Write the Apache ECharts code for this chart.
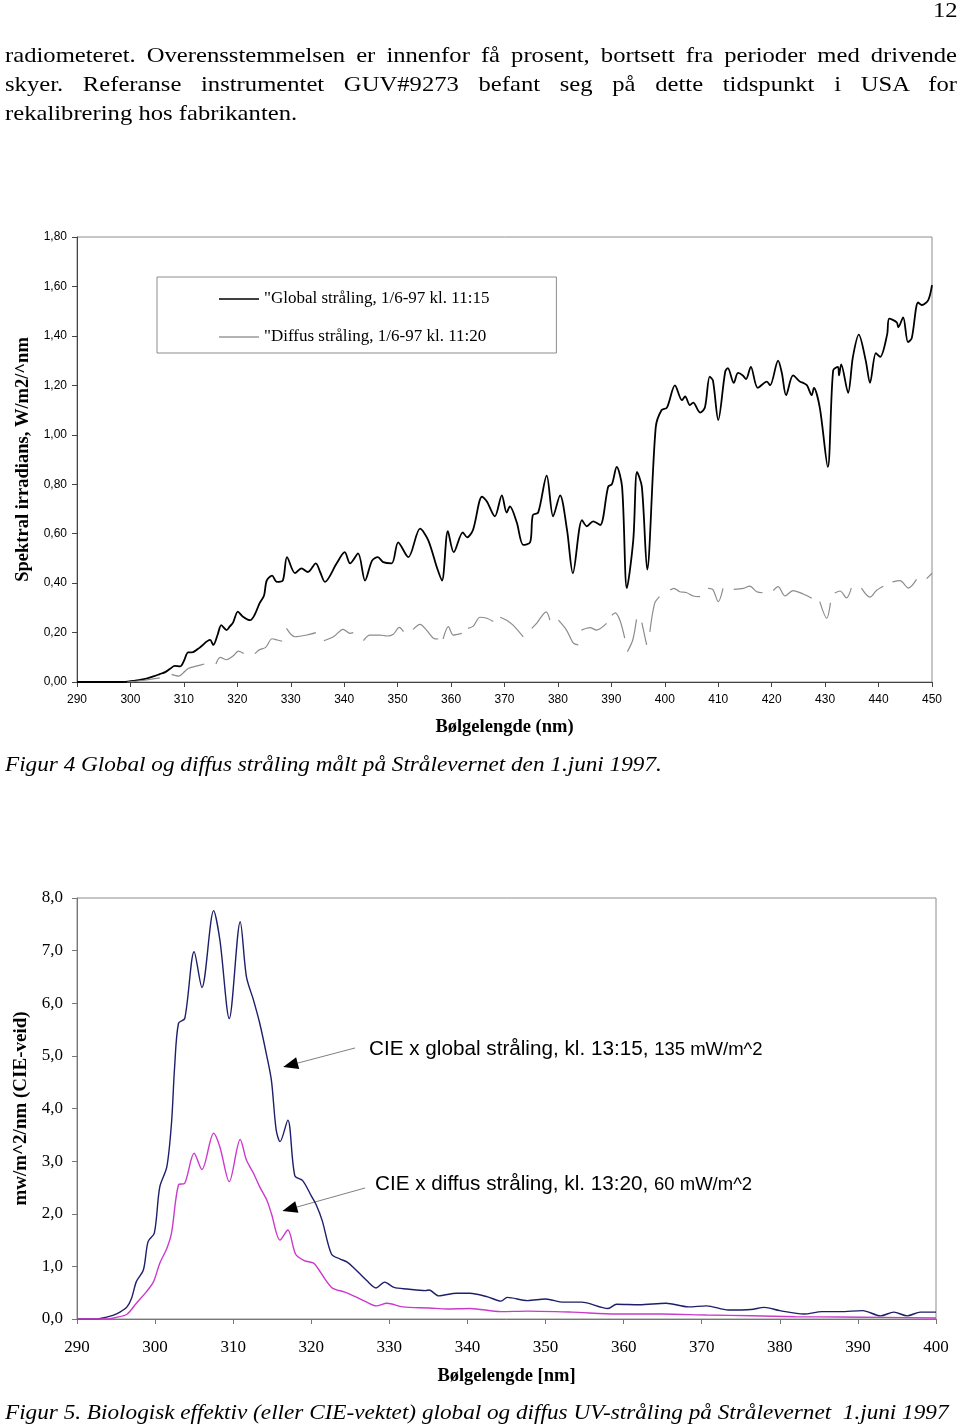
<!DOCTYPE html>
<html><head><meta charset="utf-8">
<script src="https://cdn.jsdelivr.net/npm/echarts@6/dist/echarts.min.js"></script>
<style>
html,body{margin:0;padding:0;background:#fff;}
#wrap{position:relative;width:960px;height:1428px;overflow:hidden;background:#fff;}
#chart{position:absolute;left:0;top:0;width:960px;height:1428px;}
.t{position:absolute;font-family:"Liberation Serif","Times New Roman",serif;color:#000;white-space:nowrap;line-height:26px;transform-origin:0 0;}
.p{font-size:22px;transform:scaleX(1.12);}
.j{text-align:justify;text-align-last:justify;width:850px;}
.cap{font-style:italic;font-size:21px;transform:scaleX(1.105);}
</style></head>
<body>
<div id="wrap">
<div id="chart"></div>
<div class="t p" style="left:933px;top:-3px;">12</div>
<div class="t p j" style="left:5px;top:42px;">radiometeret. Overensstemmelsen er innenfor få prosent, bortsett fra perioder med drivende</div>
<div class="t p j" style="left:5px;top:71px;">skyer. Referanse instrumentet GUV#9273 befant seg på dette tidspunkt i USA for</div>
<div class="t p" style="left:5px;top:100px;">rekalibrering hos fabrikanten.</div>
<div class="t cap" style="left:5px;top:751px;">Figur 4 Global og diffus stråling målt på Strålevernet den 1.juni 1997.</div>
<div class="t cap" style="left:5px;top:1399px;">Figur 5. Biologisk effektiv (eller CIE-vektet) global og diffus UV-stråling på Strålevernet&nbsp; 1.juni 1997</div>
</div>
<script>
// ---------- Figur 4 data ----------
const fig4Ticks = [290,300,310,320,330,340,350,360,370,380,390,400,410,420,430,440,450];
const globalName = '"Global stråling, 1/6-97 kl. 11:15';
const diffusName = '"Diffus stråling, 1/6-97 kl. 11:20';
const globalNm = [290,295,298.5,300,301.5,303,304.5,305.5,306.5,307.5,308.3,309.3,310,310.8,311.5,313,314.9,315.5,316.3,317,318,318.6,319.2,320.1,321,322.4,323.2,324.2,325,325.5,326.5,327.4,328.5,329.3,330.8,332,333.2,334.7,335.5,336.4,338.6,340.1,341.1,342.6,343.9,345.2,346.3,347.3,348.9,350.1,352,354.2,355.7,357.4,358.3,359.4,360.5,362.2,363,364.1,365.8,366.7,368.2,369.5,370.4,371,372.3,373.5,374.8,375.3,376.3,377.9,379.1,380.4,381.7,382.8,384.5,385.4,386.6,387.9,389.4,390.1,391,392,392.9,394.1,394.8,395.7,396.7,398.3,399.4,400.4,401.9,403.2,403.8,404.7,405.3,406.6,407.5,408.4,409,410,411.3,411.8,412.9,413.7,414.6,415.2,416.1,417.4,419.1,419.7,421.2,421.9,422.7,424,425.3,425.9,426.6,427.5,427.9,429,430.5,431.5,432.4,432.6,433,434.3,435.2,436.3,437.6,438.4,439.5,440.3,441.6,442,443.4,443.7,444.6,445.5,446.2,447.4,448.1,449.3,450];
const globalVal = [0,0,0,0.003,0.008,0.014,0.024,0.032,0.04,0.055,0.065,0.063,0.085,0.12,0.12,0.14,0.17,0.15,0.19,0.23,0.21,0.225,0.24,0.285,0.265,0.25,0.27,0.32,0.35,0.41,0.43,0.405,0.41,0.505,0.44,0.46,0.445,0.48,0.445,0.405,0.48,0.525,0.48,0.52,0.41,0.49,0.505,0.485,0.48,0.565,0.505,0.62,0.575,0.46,0.41,0.61,0.525,0.605,0.585,0.615,0.75,0.73,0.67,0.755,0.685,0.71,0.645,0.555,0.565,0.675,0.685,0.835,0.67,0.755,0.615,0.44,0.655,0.63,0.65,0.635,0.79,0.8,0.87,0.79,0.38,0.575,0.85,0.79,0.455,1.03,1.10,1.11,1.20,1.14,1.155,1.12,1.13,1.09,1.11,1.235,1.22,1.06,1.255,1.27,1.21,1.25,1.24,1.225,1.275,1.19,1.215,1.20,1.30,1.25,1.16,1.24,1.215,1.21,1.20,1.16,1.19,1.11,0.87,1.26,1.275,1.24,1.285,1.17,1.315,1.405,1.30,1.21,1.33,1.315,1.405,1.47,1.455,1.435,1.475,1.375,1.39,1.535,1.525,1.545,1.605];
// null = gap in the measured diffuse spectrum
const diffusNm = [299.4,301,303,304.5,305.5,306.5, 307.7,309,310.8,312.5,313.8,315, 316,316.8,318,319.2,320.2,321.2,322.2, 323.3,324.1,325.3,326.5,327.5,328.4,328.8, 329.2,330.8,333,334.7,335.5, 336.2,338,339.8,341.1,341.7,342.6, 343.6,344.8,346.7,348,349.2,350.3,351.1,352, 352.9,354.2,355.4,356.7,357.6,358, 358.5,359.5,360.4,362,362.6, 363.2,364.2,365.4,366.7,367.9,368.5, 369.2,370.4,371.6,373.5,374.3, 375.1,376,377.8,378.5,379.3, 380.1,381.6,382.9,383.8,384.1, 384.4,386,387.2,389.1,389.6, 390.1,390.7,391.6,392.5,392.7, 393,394,394.7,395.2, 395.7,396.6,396.9, 397.2,398.1,399,400, 401,401.7,402.8,404,405.3,406.6,407.3, 408.1,409,410,410.9,411.9, 412.9,414.7,415.9,417.2,418.3,419.3, 420.3,421.2,422.5,424,425.9,427.5,428.2, 429,430.3,431,431.4, 431.8,432.8,434,434.9,435.8, 436.8,438.4,439.6,440.9,441.7, 442.6,444,445.6,447.1,448, 449,450];
const diffusVal = [0,0.003,0.008,0.014,0.017,null, 0.031,0.024,0.055,0.065,0.073,null, 0.073,0.10,0.09,0.105,0.125,0.115,null, 0.115,0.13,0.14,0.175,0.17,0.165,null, 0.217,0.183,0.19,0.2,null, 0.167,0.183,0.213,0.197,0.2,null, 0.167,0.19,0.19,0.186,0.193,0.221,0.204,null, 0.213,0.233,0.21,0.177,0.174,null, 0.174,0.224,0.19,0.197,null, 0.217,0.227,0.262,0.258,0.245,null, 0.262,0.25,0.23,0.183,null, 0.217,0.237,0.284,0.25,null, 0.25,0.21,0.157,0.15,null, 0.21,0.22,0.21,0.237,null, 0.27,0.28,0.25,0.177,null, 0.123,0.17,0.253,null, 0.24,0.15,null, 0.203,0.318,0.345,null, 0.372,0.379,0.365,0.362,0.348,0.345,null, 0.379,0.374,0.325,0.379,null, 0.375,0.379,0.388,0.365,0.361,null, 0.37,0.386,0.348,0.37,0.356,0.339,null, 0.325,0.258,0.32,null, 0.36,0.368,0.34,0.38,null, 0.38,0.343,0.37,0.387,null, 0.405,0.41,0.38,0.415,null, 0.418,0.44];

// ---------- Figur 5 data ----------
const fig5Ticks = [290,300,310,320,330,340,350,360,370,380,390,400];
const cieGlobalNm = [290,292,293,294.6,295.5,296.4,297,297.6,298.5,299.1,299.9,300.6,301.5,302.1,302.5,303,303.8,305,306,307.5,308.3,309.5,310.9,311.7,312.6,313.4,314.3,314.9,315.5,316,317,317.9,318.9,320,320.6,321.4,322.6,323.7,324.6,325.4,327.1,328.3,329.4,330.6,332.3,334.6,335.1,336.3,338.6,340.3,342.6,344.3,345.1,347.7,350,352.3,354.6,358,359.1,362,365.4,368.3,370.6,373.4,376.3,378,380,383.1,385.4,387.7,390.6,392.9,394.6,396.3,398,400];
const cieGlobalVal = [0,0,0.01,0.07,0.13,0.23,0.4,0.71,0.93,1.47,1.63,2.51,2.89,3.72,4.79,5.62,5.71,6.98,6.30,7.76,7.20,5.71,7.55,6.5,6.06,5.62,5.0,4.53,3.6,3.37,3.78,2.72,2.63,2.34,2.18,1.87,1.23,1.14,1.08,0.98,0.73,0.59,0.70,0.60,0.57,0.54,0.55,0.44,0.49,0.49,0.42,0.34,0.41,0.35,0.38,0.32,0.32,0.20,0.28,0.27,0.30,0.23,0.25,0.17,0.18,0.22,0.16,0.095,0.14,0.14,0.16,0.06,0.13,0.06,0.13,0.13];
const cieDiffusNm = [290,293.8,295,296.4,297.6,298.9,299.8,300.6,301.5,302.1,303,303.8,305,306,307.5,308.3,309.5,310.9,311.7,312.6,313.4,314.3,314.9,316,317,318,319.1,320.3,320.9,322.6,324.3,325.4,327.1,328.3,329.7,331.7,335.1,337.4,340.3,344.3,347.7,353.4,359.1,364.9,370.6,376.3,382,387.7,393.4,400];
const cieDiffusVal = [0,0,0.03,0.09,0.30,0.52,0.71,1.06,1.34,1.63,2.55,2.58,3.15,2.84,3.53,3.27,2.61,3.41,3.02,2.77,2.51,2.26,2.0,1.50,1.69,1.23,1.11,1.06,0.95,0.60,0.51,0.44,0.32,0.25,0.30,0.23,0.21,0.19,0.20,0.14,0.15,0.13,0.095,0.095,0.076,0.063,0.044,0.038,0.03,0.02];
const annoText = ['CIE x global stråling, kl. 13:15, ', '135 mW/m^2', 'CIE x diffus stråling, kl. 13:20, ', '60 mW/m^2'];
const annoTail = [[325.6,5.15],[326.9,2.49]];
const annoTip = [[316.4,4.79],[316.3,2.05]];

const zip = (a,b) => a.map((x,i)=>[x,b[i]]);
const SERIF = '"Liberation Serif","Times New Roman",serif';
const SANS = '"Liberation Sans",Arial,sans-serif';

const chart = echarts.init(document.getElementById('chart'), null, {renderer:'canvas'});
const option = {
  animation:false,
  backgroundColor:'#fff',
  grid:[
    {left:77, top:237, width:855, height:445, show:true, borderColor:'#8c8c8c', borderWidth:1},
    {left:77, top:898, width:859, height:421, show:true, borderColor:'#8c8c8c', borderWidth:1}
  ],
  legend:{
    data:[
      {name:globalName, icon:'rect', itemStyle:{color:'#000'}},
      {name:diffusName, icon:'rect', itemStyle:{color:'#9a9a9a'}}
    ],
    orient:'vertical', left:157, top:277,
    itemWidth:40, itemHeight:1.6, itemGap:20, padding:[13,67,7,62],
    borderColor:'#8c8c8c', borderWidth:1, backgroundColor:'#fff',
    textStyle:{fontFamily:SERIF, fontSize:17, color:'#000', lineHeight:18}
  },
  xAxis:[
    {type:'value', gridIndex:0, min:290, max:450, interval:10,
     axisLine:{lineStyle:{color:'#444', width:1}}, axisTick:{length:5, lineStyle:{color:'#444'}},
     splitLine:{show:false},
     axisLabel:{fontFamily:SANS, fontSize:12, color:'#000', margin:12, formatter:v=>fig4Ticks.includes(v)?String(v):''},
     name:'Bølgelengde (nm)', nameLocation:'middle', nameGap:36,
     nameTextStyle:{fontFamily:SERIF, fontWeight:'bold', fontSize:18.5, color:'#000', verticalAlign:'top'}},
    {type:'value', gridIndex:1, min:290, max:400, interval:10,
     axisLine:{lineStyle:{color:'#777', width:1}}, axisTick:{length:5, lineStyle:{color:'#777'}},
     splitLine:{show:false},
     axisLabel:{fontFamily:SERIF, fontSize:17, color:'#000', margin:20, formatter:v=>fig5Ticks.includes(v)?String(v):''},
     name:'Bølgelengde [nm]', nameLocation:'middle', nameGap:48,
     nameTextStyle:{fontFamily:SERIF, fontWeight:'bold', fontSize:18.5, color:'#000', verticalAlign:'top'}}
  ],
  yAxis:[
    {type:'value', gridIndex:0, min:0, max:1.8, interval:0.2,
     axisLine:{show:true, lineStyle:{color:'#444', width:1}}, axisTick:{show:true, length:5, lineStyle:{color:'#444'}},
     splitLine:{show:false},
     axisLabel:{fontFamily:SANS, fontSize:12, color:'#000', margin:10, formatter:v=>v.toFixed(2).replace('.',',')},
     name:'Spektral irradians, W/m2/^nm', nameLocation:'middle', nameGap:43, nameRotate:90,
     nameTextStyle:{fontFamily:SERIF, fontWeight:'bold', fontSize:18.5, color:'#000'}},
    {type:'value', gridIndex:1, min:0, max:8, interval:1,
     axisLine:{show:true, lineStyle:{color:'#777', width:1}}, axisTick:{show:true, length:5, lineStyle:{color:'#777'}},
     splitLine:{show:false},
     axisLabel:{fontFamily:SERIF, fontSize:17, color:'#000', margin:14, formatter:v=>v.toFixed(1).replace('.',',')},
     name:'mw/m^2/nm (CIE-veid)', nameLocation:'middle', nameGap:41, nameRotate:90,
     nameTextStyle:{fontFamily:SERIF, fontWeight:'bold', fontSize:19, color:'#000'}}
  ],
  series:[
    {name:globalName, type:'line', xAxisIndex:0, yAxisIndex:0, data:zip(globalNm, globalVal),
     symbol:'none', smooth:0.3, color:'#000', lineStyle:{color:'#000', width:1.8}},
    {name:diffusName, type:'line', xAxisIndex:0, yAxisIndex:0, data:zip(diffusNm, diffusVal),
     symbol:'none', smooth:0.3, connectNulls:false, color:'#8c8c8c', lineStyle:{color:'#8c8c8c', width:1.2}},
    {name:'CIE global', type:'line', xAxisIndex:1, yAxisIndex:1, data:zip(cieGlobalNm, cieGlobalVal),
     symbol:'none', smooth:0.3, color:'#1e1e6a', lineStyle:{color:'#1e1e6a', width:1.4}},
    {name:'CIE diffus', type:'line', xAxisIndex:1, yAxisIndex:1, data:zip(cieDiffusNm, cieDiffusVal),
     symbol:'none', smooth:0.3, color:'#cc3acc', lineStyle:{color:'#cc3acc', width:1.4}}
  ]
};
chart.setOption(option);

// annotations (arrows drawn from data coordinates)
const g = [];
for (let i=0;i<2;i++){
  const a = chart.convertToPixel({gridIndex:1}, annoTail[i]);
  const b = chart.convertToPixel({gridIndex:1}, annoTip[i]);
  const dx=b[0]-a[0], dy=b[1]-a[1], L=Math.hypot(dx,dy), ux=dx/L, uy=dy/L;
  const hl=15, hw=6;
  const bx=b[0]-ux*hl, by=b[1]-uy*hl;
  g.push({type:'line', shape:{x1:a[0],y1:a[1],x2:bx,y2:by}, style:{stroke:'#808080', lineWidth:1}});
  g.push({type:'polygon', shape:{points:[[b[0],b[1]],[bx-uy*hw,by+ux*hw],[bx+uy*hw,by-ux*hw]]}, style:{fill:'#000'}});
}
const rich = {a:{fontFamily:SANS,fontSize:20.7,fill:'#000'}, b:{fontFamily:SANS,fontSize:18.5,fill:'#000'}};
g.push({type:'text', left:369, top:1039, style:{text:'{a|'+annoText[0]+'}{b|'+annoText[1]+'}', rich:rich}});
g.push({type:'text', left:375, top:1174, style:{text:'{a|'+annoText[2]+'}{b|'+annoText[3]+'}', rich:rich}});
chart.setOption({graphic:g});
</script>
</body></html>
